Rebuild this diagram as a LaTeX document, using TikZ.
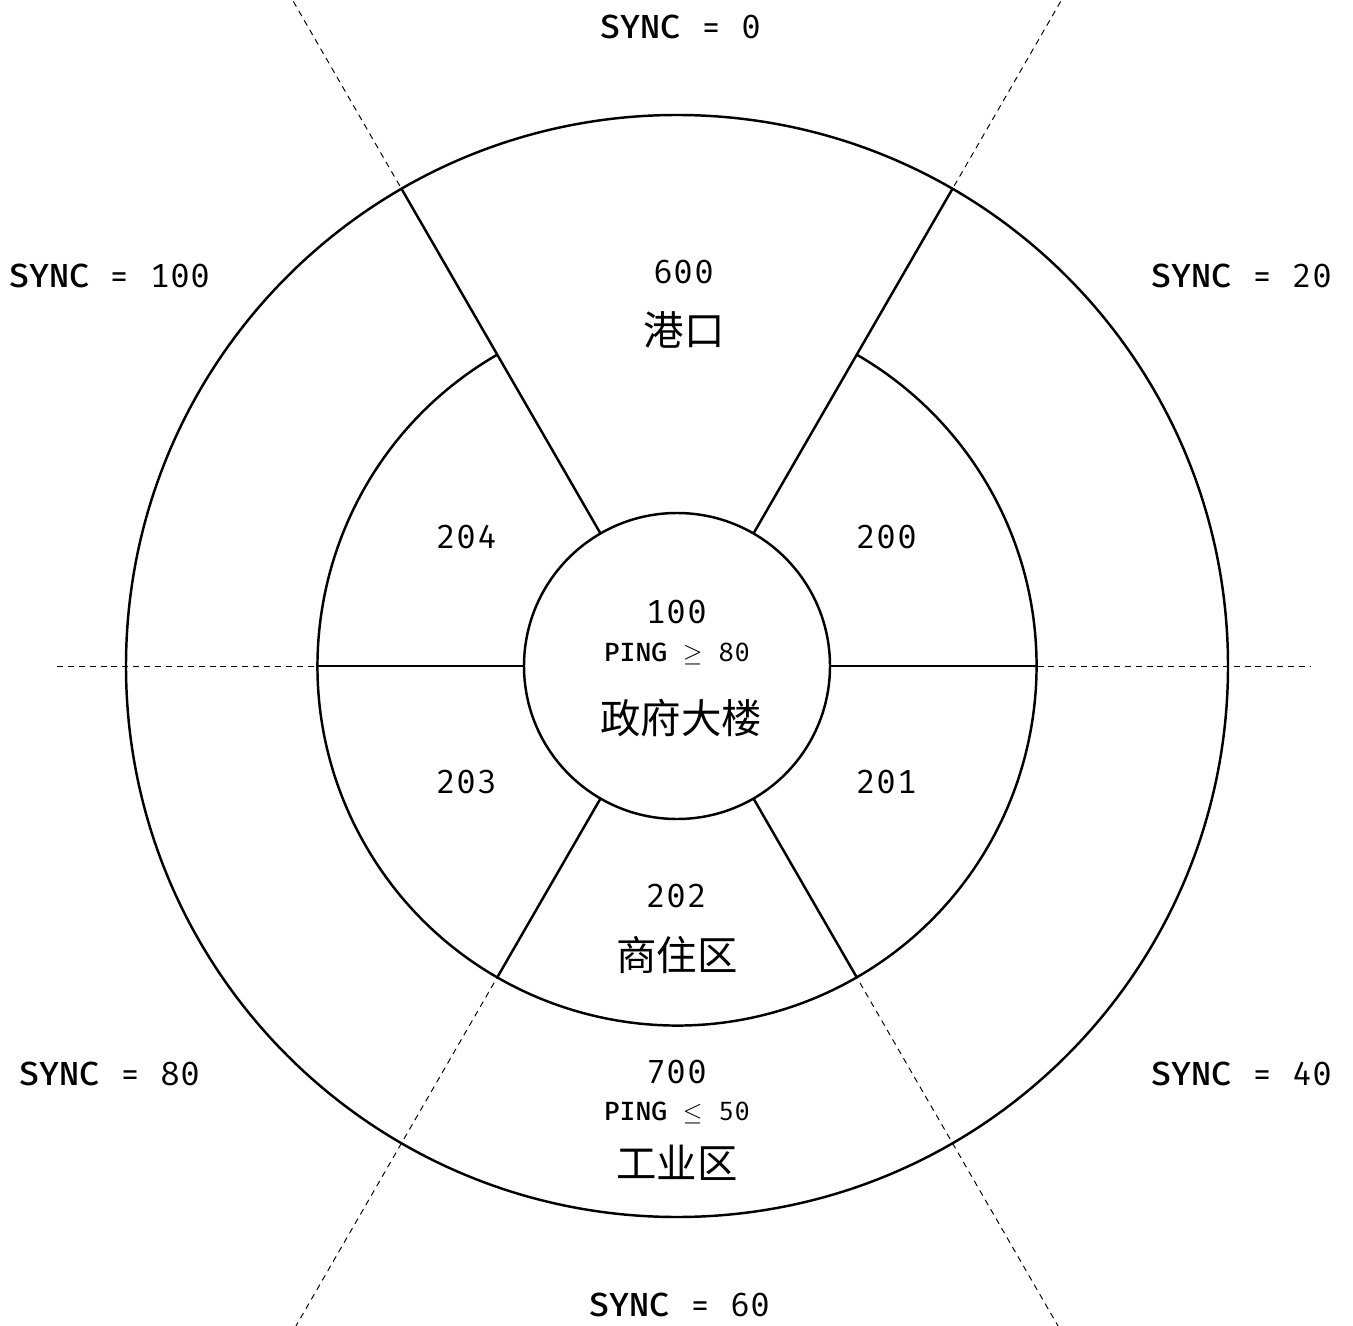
\documentclass[tikz,border=0pt]{standalone}
\usepackage{fontspec}
\setmonofont{Fira Mono}
\newfontfamily\cjk{Noto Sans CJK SC}
\usetikzlibrary{positioning}

\begin{document}
\begin{tikzpicture}[
    ring/.style={circle, draw, line width=1.4pt, inner sep=0pt, outer sep=0pt},
    seg/.style={line width=1.4pt},
    guide/.style={line width=0.55pt, dash pattern=on 3.4pt off 2.8pt},
    num/.style={font=\ttfamily\fontsize{19}{22}\selectfont},
    ping/.style={font=\ttfamily\fontsize{15}{18}\selectfont},
    zone/.style={font=\cjk\fontsize{23}{26}\selectfont},
    sync/.style={font=\ttfamily\fontsize{19}{22}\selectfont},
  ]
  \useasboundingbox (-13.54,-13.18) rectangle (13.52,13.32);
  \clip (-13.54,-13.18) rectangle (13.52,13.32);

  % dashed guides: horizontal and the two diagonals at 60 and 120 degrees
  \coordinate (gW)  at (-12.4,0);
  \coordinate (gE)  at (12.66,0);
  \coordinate (gNW) at (120:16);
  \coordinate (gSE) at (300:16);
  \coordinate (gNE) at (60:16);
  \coordinate (gSW) at (240:16);
  \draw[guide] (gW) -- (gE);
  \draw[guide] (gNW) -- (gSE);
  \draw[guide] (gNE) -- (gSW);

  % rings round the centre; the middle one is open in the top wedge
  \node[ring, minimum size=22.04cm] (outer) at (0,0) {};
  \node[ring, draw=none, minimum size=14.38cm] (mid) at (0,0) {};
  \node[ring, minimum size=6.12cm, fill=white] (core) at (0,0) {};
  \draw[seg] (mid.120) arc[start angle=120, end angle=420, radius=7.19];

  % solid spokes
  \draw[seg] (core.60)  -- (outer.60);
  \draw[seg] (core.120) -- (outer.120);
  \draw[seg] (core.0)   -- (mid.0);
  \draw[seg] (core.180) -- (mid.180);
  \draw[seg] (core.240) -- (mid.240);
  \draw[seg] (core.300) -- (mid.300);

  % centre
  \node[num]  (c100)  at (0,1.08)     {100};
  \node[ping] (cping) at (0,0.24)     {\bfseries PING\mdseries{} $\geq$ 80};
  \node[zone] (cgov)  at (0.08,-1.04) {政府大楼};

  % middle ring
  \node[num] (m204) at (-4.2,2.58)  {204};
  \node[num] (m200) at (4.2,2.58)   {200};
  \node[num] (m203) at (-4.2,-2.32) {203};
  \node[num] (m201) at (4.2,-2.32)  {201};
  \node[num]  (m202)  at (0,-4.6)  {202};
  \node[zone] (mshop) at (0,-5.78) {商住区};

  % outer ring
  \node[num]  (o600)  at (0.14,7.88) {600};
  \node[zone] (oport) at (0.14,6.72) {港口};
  \node[num]  (o700)  at (0,-8.12)   {700};
  \node[ping] (oping) at (0,-8.94)   {\bfseries PING\mdseries{} $\leq$ 50};
  \node[zone] (oind)  at (0,-9.94)   {工业区};

  % sync values round the outside
  \node[sync] (s0)   at (0.08,12.78)   {\bfseries SYNC\mdseries{} = 0};
  \node[sync] (s20)  at (11.3,7.8)     {\bfseries SYNC\mdseries{} = 20};
  \node[sync] (s40)  at (11.3,-8.16)   {\bfseries SYNC\mdseries{} = 40};
  \node[sync] (s60)  at (0.06,-12.78)  {\bfseries SYNC\mdseries{} = 60};
  \node[sync] (s80)  at (-11.34,-8.16) {\bfseries SYNC\mdseries{} = 80};
  \node[sync] (s100) at (-11.34,7.8)   {\bfseries SYNC\mdseries{} = 100};
\end{tikzpicture}
\end{document}
